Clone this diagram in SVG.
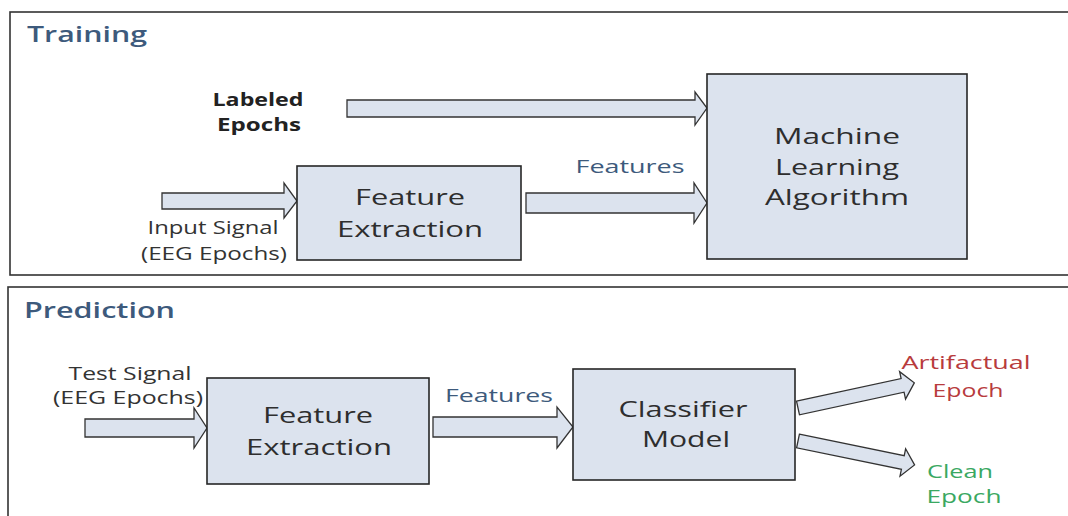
<svg xmlns="http://www.w3.org/2000/svg" width="1068" height="516" viewBox="0 0 1068 516">
<style>
  text { font-family: "Open Sans", "Liberation Sans", sans-serif; }
  .frame { fill: #ffffff; stroke: #333333; stroke-width: 1.6; }
  .box { fill: #dce3ee; stroke: #262626; stroke-width: 1.6; }
  .arrow { fill: #dce3ee; stroke: #333333; stroke-width: 1.3; stroke-linejoin: miter; }
  .title { font-size: 21px; font-weight: 600; fill: #3d5a7c; }
  .boxtxt { font-size: 21.5px; font-weight: 500; fill: #2e2e2e; text-anchor: middle; }
  .lbl { font-size: 17.5px; font-weight: 500; fill: #333333; text-anchor: middle; }
  .lblb { font-size: 17.5px; font-weight: 700; fill: #222222; text-anchor: middle; }
  .feat { font-size: 18px; font-weight: 500; fill: #3d5a7c; text-anchor: middle; }
  .red { font-size: 19px; font-weight: 500; fill: #b83b3d; text-anchor: middle; }
  .green { font-size: 19px; font-weight: 500; fill: #3aa862; text-anchor: middle; }
</style>
<rect width="1068" height="516" fill="#ffffff"/>

<g id="frame-training">
  <rect class="frame" x="10" y="12" width="1070" height="263"/>
  <text class="title" x="27" y="42" textLength="120" lengthAdjust="spacingAndGlyphs">Training</text>
</g>
<g id="frame-prediction">
  <rect class="frame" x="8" y="287" width="1072" height="240"/>
  <text class="title" x="24" y="318" textLength="151" lengthAdjust="spacingAndGlyphs">Prediction</text>
</g>

<g id="connectors">
  <polygon class="arrow" points="347,100 695,100 695,92 707,108 695,125 695,117 347,117"/>
  <polygon class="arrow" points="162,193 284,193 284,183 297,201 284,218 284,209 162,209"/>
  <polygon class="arrow" points="526,193 694,193 694,183 707,203 694,223 694,213 526,213"/>
  <polygon class="arrow" points="85,419 194,419 194,408 207,428 194,448 194,437 85,437"/>
  <polygon class="arrow" points="433,417 557,417 557,407 573,427 557,448 557,437 433,437"/>
  <polygon class="arrow" points="0,-7 107,-7 107,-14 119,0 107,14 107,7 0,7" transform="translate(798,408) rotate(-12.2)"/>
  <polygon class="arrow" points="0,-7 107,-7 107,-14 119,0 107,14 107,7 0,7" transform="translate(798,441) rotate(11.6)"/>
</g>

<g id="label-labeled-epochs">
  <text class="lblb" x="258" y="106" textLength="91" lengthAdjust="spacingAndGlyphs">Labeled</text>
  <text class="lblb" x="259" y="131" textLength="84" lengthAdjust="spacingAndGlyphs">Epochs</text>
</g>
<g id="label-input-signal">
  <text class="lbl" x="213" y="234" textLength="131" lengthAdjust="spacingAndGlyphs">Input Signal</text>
  <text class="lbl" x="214" y="260" textLength="146" lengthAdjust="spacingAndGlyphs">(EEG Epochs)</text>
</g>
<g id="node-feature-extraction-train">
  <rect class="box" x="297" y="166" width="224" height="94"/>
  <text class="boxtxt" x="410" y="205" textLength="110" lengthAdjust="spacingAndGlyphs">Feature</text>
  <text class="boxtxt" x="410" y="237" textLength="146" lengthAdjust="spacingAndGlyphs">Extraction</text>
</g>
<g id="label-features-train">
  <text class="feat" x="630" y="173" textLength="109" lengthAdjust="spacingAndGlyphs">Features</text>
</g>
<g id="node-ml-algorithm">
  <rect class="box" x="707" y="74" width="260" height="185"/>
  <text class="boxtxt" x="837" y="144" textLength="126" lengthAdjust="spacingAndGlyphs">Machine</text>
  <text class="boxtxt" x="837" y="175" textLength="124" lengthAdjust="spacingAndGlyphs">Learning</text>
  <text class="boxtxt" x="837" y="205" textLength="144" lengthAdjust="spacingAndGlyphs">Algorithm</text>
</g>

<g id="label-test-signal">
  <text class="lbl" x="130" y="380" textLength="123" lengthAdjust="spacingAndGlyphs">Test Signal</text>
  <text class="lbl" x="128" y="404" textLength="150" lengthAdjust="spacingAndGlyphs">(EEG Epochs)</text>
</g>
<g id="node-feature-extraction-pred">
  <rect class="box" x="207" y="378" width="222" height="106"/>
  <text class="boxtxt" x="318" y="423" textLength="110" lengthAdjust="spacingAndGlyphs">Feature</text>
  <text class="boxtxt" x="319" y="455" textLength="146" lengthAdjust="spacingAndGlyphs">Extraction</text>
</g>
<g id="label-features-pred">
  <text class="feat" x="499" y="402" textLength="108" lengthAdjust="spacingAndGlyphs">Features</text>
</g>
<g id="node-classifier-model">
  <rect class="box" x="573" y="369" width="222" height="111"/>
  <text class="boxtxt" x="683" y="417" textLength="129" lengthAdjust="spacingAndGlyphs">Classifier</text>
  <text class="boxtxt" x="686" y="447" textLength="88" lengthAdjust="spacingAndGlyphs">Model</text>
</g>
<g id="label-artifactual">
  <text class="red" x="966" y="369" textLength="129" lengthAdjust="spacingAndGlyphs">Artifactual</text>
  <text class="red" x="968" y="397" textLength="71" lengthAdjust="spacingAndGlyphs">Epoch</text>
</g>
<g id="label-clean">
  <text class="green" x="960" y="478" textLength="66" lengthAdjust="spacingAndGlyphs">Clean</text>
  <text class="green" x="964" y="503" textLength="75" lengthAdjust="spacingAndGlyphs">Epoch</text>
</g>
</svg>
